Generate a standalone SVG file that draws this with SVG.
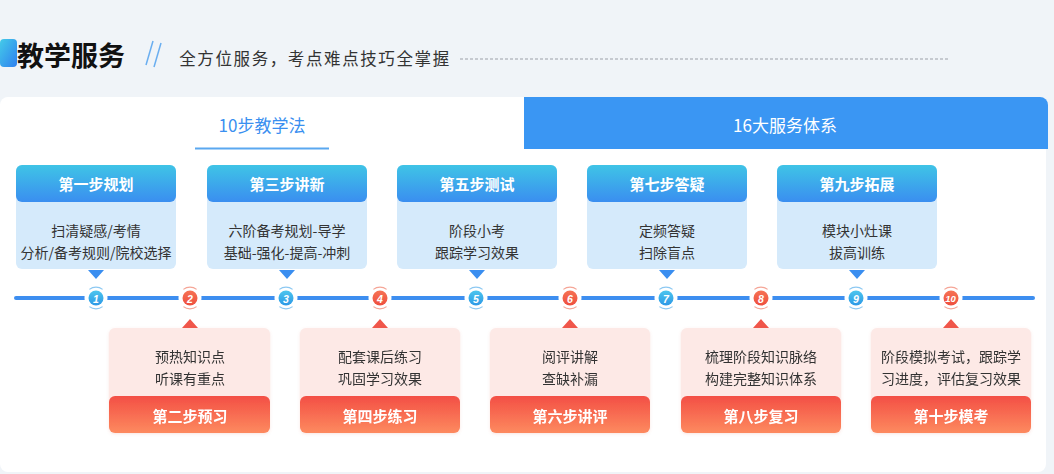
<svg xmlns="http://www.w3.org/2000/svg" width="1054" height="474" viewBox="0 0 1054 474">
<defs>
<linearGradient id="gBar" x1="0" y1="0" x2="1" y2="1"><stop offset="0" stop-color="#44cbe9"/><stop offset="1" stop-color="#2f80ef"/></linearGradient>
<linearGradient id="gBlue" x1="0" y1="0" x2="0" y2="1"><stop offset="0" stop-color="#3fc4e6"/><stop offset="1" stop-color="#3a8ef0"/></linearGradient>
<linearGradient id="gRed" x1="0" y1="0" x2="0" y2="1"><stop offset="0" stop-color="#f34f45"/><stop offset="1" stop-color="#fd8a5f"/></linearGradient>
<linearGradient id="gDotB" x1="0" y1="0" x2="0" y2="1"><stop offset="0" stop-color="#4cc6ee"/><stop offset="1" stop-color="#2d98e6"/></linearGradient>
<linearGradient id="gDotR" x1="0" y1="0" x2="0" y2="1"><stop offset="0" stop-color="#f67355"/><stop offset="1" stop-color="#ee4e3e"/></linearGradient>
<filter id="sh" x="-10%" y="-10%" width="120%" height="130%"><feDropShadow dx="0" dy="1" stdDeviation="1.5" flood-color="#e07060" flood-opacity="0.18"/></filter>
<g id="mkB">
<circle r="11.5" fill="#fff"/>
<circle r="7.5" fill="url(#gDotB)"/>
<path d="M-6.6 -8.6 A10.8 10.8 0 0 1 6.6 -8.6 M-6.6 8.6 A10.8 10.8 0 0 0 6.6 8.6" fill="none" stroke="#8cc8f2" stroke-width="1.2"/>
</g>
<g id="mkR">
<circle r="11.5" fill="#fff"/>
<circle r="7.5" fill="url(#gDotR)"/>
<path d="M-6.6 -8.6 A10.8 10.8 0 0 1 6.6 -8.6 M-6.6 8.6 A10.8 10.8 0 0 0 6.6 8.6" fill="none" stroke="#f5a596" stroke-width="1.2"/>
</g>
</defs>
<style>
text{font-family:"Noto Sans CJK SC","Noto Sans",sans-serif;text-anchor:middle;dominant-baseline:central}
.hd{font-size:15px;font-weight:bold;fill:#fff}
.bd{font-size:14px;fill:#333}
.num{font-size:10.5px;font-style:italic;font-weight:bold;fill:#fff;font-family:"Liberation Sans",sans-serif}
.tbody{fill:#d5eafb}
.rbody{fill:#fde9e6}
</style>
<rect width="1054" height="474" fill="#f0f4f8"/>
<g id="header">
<rect x="0" y="39" width="17" height="28" rx="4" fill="url(#gBar)"/>
<text x="71" y="54" style="font-size:27px;font-weight:bold;fill:#111">教学服务</text>
<line x1="153" y1="41" x2="146" y2="65" stroke="#6aaef0" stroke-width="1.5"/>
<line x1="161" y1="43" x2="154" y2="67" stroke="#6aaef0" stroke-width="1.5"/>
<text x="315" y="58" style="font-size:16.5px;fill:#333;letter-spacing:1.6px">全方位服务，考点难点技巧全掌握</text>
<line x1="460" y1="59" x2="950" y2="59" stroke="#b8bcc2" stroke-width="1.5" stroke-dasharray="3 2"/>
</g>
<g id="panel">
<rect x="0" y="97" width="1046" height="375" rx="8" fill="#fff"/>
<path d="M524 97 H1040 A8 8 0 0 1 1048 105 V149 H524 Z" fill="#3a96f3"/>
<text x="262" y="124" style="font-size:17px;fill:#3a8ff0">10步教学法</text>
<rect x="195" y="147.5" width="134" height="2" fill="#5aa8f0"/>
<text x="785" y="124" style="font-size:17px;fill:#fff">16大服务体系</text>
</g>
<g id="connectors">
<line x1="16" y1="298" x2="1033" y2="298" stroke="#3d8ef0" stroke-width="4" stroke-linecap="round"/>
<path d="M88 270 L104 270 L96 279 Z M279 270 L295 270 L287 279 Z M469 270 L485 270 L477 279 Z M659 270 L675 270 L667 279 Z M849 270 L865 270 L857 279 Z" fill="#3a8ef0"/>
<path d="M182 328 L198 328 L190 319 Z M372 328 L388 328 L380 319 Z M562 328 L578 328 L570 319 Z M753 328 L769 328 L761 319 Z M943 328 L959 328 L951 319 Z" fill="#f0564a"/>
</g>
<g id="markers">
<g id="m1"><use href="#mkB" x="96" y="298"/><text class="num" x="96" y="298.5">1</text></g>
<g id="m2"><use href="#mkR" x="190" y="298"/><text class="num" x="190" y="298.5">2</text></g>
<g id="m3"><use href="#mkB" x="286" y="298"/><text class="num" x="286" y="298.5">3</text></g>
<g id="m4"><use href="#mkR" x="380" y="298"/><text class="num" x="380" y="298.5">4</text></g>
<g id="m5"><use href="#mkB" x="476" y="298"/><text class="num" x="476" y="298.5">5</text></g>
<g id="m6"><use href="#mkR" x="570" y="298"/><text class="num" x="570" y="298.5">6</text></g>
<g id="m7"><use href="#mkB" x="666" y="298"/><text class="num" x="666" y="298.5">7</text></g>
<g id="m8"><use href="#mkR" x="761" y="298"/><text class="num" x="761" y="298.5">8</text></g>
<g id="m9"><use href="#mkB" x="856" y="298"/><text class="num" x="856" y="298.5">9</text></g>
<g id="m10"><use href="#mkR" x="951" y="298"/><text class="num" x="950.5" y="298.5" style="font-size:9.5px">10</text></g>
</g>
<g id="step1">
<rect class="tbody" x="16" y="165" width="160" height="104" rx="6"/>
<rect x="16" y="165" width="160" height="37" rx="6" fill="url(#gBlue)"/>
<text class="hd" x="96" y="183">第一步规划</text>
<text class="bd" x="96" y="230">扫清疑感/考情</text>
<text class="bd" x="96" y="252">分析/备考规则/院校选择</text>
</g>
<g id="step3">
<rect class="tbody" x="207" y="165" width="160" height="104" rx="6"/>
<rect x="207" y="165" width="160" height="37" rx="6" fill="url(#gBlue)"/>
<text class="hd" x="287" y="183">第三步讲新</text>
<text class="bd" x="287" y="230">六阶备考规划-导学</text>
<text class="bd" x="287" y="252">基础-强化-提高-冲刺</text>
</g>
<g id="step5">
<rect class="tbody" x="397" y="165" width="160" height="104" rx="6"/>
<rect x="397" y="165" width="160" height="37" rx="6" fill="url(#gBlue)"/>
<text class="hd" x="477" y="183">第五步测试</text>
<text class="bd" x="477" y="230">阶段小考</text>
<text class="bd" x="477" y="252">跟踪学习效果</text>
</g>
<g id="step7">
<rect class="tbody" x="587" y="165" width="160" height="104" rx="6"/>
<rect x="587" y="165" width="160" height="37" rx="6" fill="url(#gBlue)"/>
<text class="hd" x="667" y="183">第七步答疑</text>
<text class="bd" x="667" y="230">定频答疑</text>
<text class="bd" x="667" y="252">扫除盲点</text>
</g>
<g id="step9">
<rect class="tbody" x="777" y="165" width="160" height="104" rx="6"/>
<rect x="777" y="165" width="160" height="37" rx="6" fill="url(#gBlue)"/>
<text class="hd" x="857" y="183">第九步拓展</text>
<text class="bd" x="857" y="230">模块小灶课</text>
<text class="bd" x="857" y="252">拔高训练</text>
</g>
<g id="step2" filter="url(#sh)">
<rect class="rbody" x="109" y="328" width="161" height="105" rx="6"/>
<rect x="109" y="396" width="161" height="37" rx="6" fill="url(#gRed)"/>
<text class="bd" x="190" y="356">预热知识点</text>
<text class="bd" x="190" y="378">听课有重点</text>
<text class="hd" x="190" y="415">第二步预习</text>
</g>
<g id="step4" filter="url(#sh)">
<rect class="rbody" x="300" y="328" width="160" height="105" rx="6"/>
<rect x="300" y="396" width="160" height="37" rx="6" fill="url(#gRed)"/>
<text class="bd" x="380" y="356">配套课后练习</text>
<text class="bd" x="380" y="378">巩固学习效果</text>
<text class="hd" x="380" y="415">第四步练习</text>
</g>
<g id="step6" filter="url(#sh)">
<rect class="rbody" x="490" y="328" width="160" height="105" rx="6"/>
<rect x="490" y="396" width="160" height="37" rx="6" fill="url(#gRed)"/>
<text class="bd" x="570" y="356">阅评讲解</text>
<text class="bd" x="570" y="378">查缺补漏</text>
<text class="hd" x="570" y="415">第六步讲评</text>
</g>
<g id="step8" filter="url(#sh)">
<rect class="rbody" x="681" y="328" width="160" height="105" rx="6"/>
<rect x="681" y="396" width="160" height="37" rx="6" fill="url(#gRed)"/>
<text class="bd" x="761" y="356">梳理阶段知识脉络</text>
<text class="bd" x="761" y="378">构建完整知识体系</text>
<text class="hd" x="761" y="415">第八步复习</text>
</g>
<g id="step10" filter="url(#sh)">
<rect class="rbody" x="871" y="328" width="160" height="105" rx="6"/>
<rect x="871" y="396" width="160" height="37" rx="6" fill="url(#gRed)"/>
<text class="bd" x="951" y="356">阶段模拟考试，跟踪学</text>
<text class="bd" x="951" y="378">习进度，评估复习效果</text>
<text class="hd" x="951" y="415">第十步模考</text>
</g>
</svg>
